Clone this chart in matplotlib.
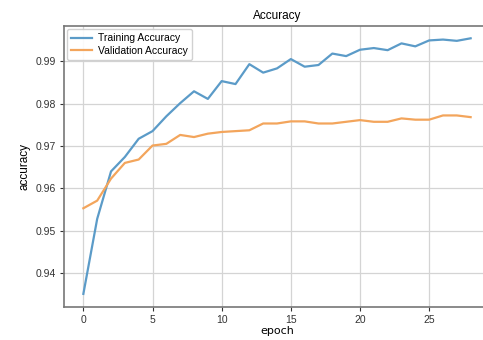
import matplotlib.pyplot as plt
from matplotlib import font_manager

# per-epoch accuracy values
epochs = list(range(29))
train_acc = [0.9351, 0.9528, 0.9640, 0.9674, 0.9717, 0.9735, 0.9770, 0.9801, 0.9829, 0.9811,
             0.9853, 0.9846, 0.9893, 0.9873, 0.9883, 0.9905, 0.9887, 0.9891, 0.9918, 0.9912,
             0.9927, 0.9931, 0.9926, 0.9942, 0.9935, 0.9949, 0.9951, 0.9948, 0.9954]
val_acc = [0.9553, 0.9571, 0.9623, 0.9660, 0.9668, 0.9701, 0.9705, 0.9726, 0.9721, 0.9729,
           0.9733, 0.9735, 0.9737, 0.9753, 0.9753, 0.9758, 0.9758, 0.9753, 0.9753, 0.9757,
           0.9761, 0.9757, 0.9757, 0.9765, 0.9762, 0.9762, 0.9772, 0.9772, 0.9768]
yticks = [0.94, 0.95, 0.96, 0.97, 0.98, 0.99]

installed = {f.name for f in font_manager.fontManager.ttflist}
narrow = [f for f in ['Liberation Sans Narrow', 'DejaVu Sans Condensed'] if f in installed]
narrow = (narrow or ['Liberation Sans']) + ['DejaVu Sans']
plt.rcParams['font.family'] = narrow

fig = plt.figure(figsize=(4.83, 3.4), dpi=100)
ax = fig.add_axes([0.1325, 0.097, 0.882, 0.8265])

ax.plot(epochs, train_acc, color='#5b9bc8', lw=1.6, label='Training Accuracy')
ax.plot(epochs, val_acc, color='#f3a55c', lw=1.6, label='Validation Accuracy')

ax.set_ylim(0.9320, 0.9983)
ax.set_yticks(yticks)
ax.set_xticks([0, 5, 10, 15, 20, 25])
ax.grid(True, color='#d4d4d4', lw=0.9)
ax.tick_params(labelsize=7.5, colors='#333333', length=3, pad=2.5)
for s in ax.spines.values():
    s.set_color('#777777')
    s.set_linewidth(1.2)

ax.set_title('Accuracy', fontsize=8.5, pad=5)
ax.set_ylabel('accuracy', fontsize=8.5)
ax.set_xlabel('epoch', fontsize=8, family='DejaVu Sans', labelpad=1)
ax.legend(loc='upper left', fontsize=7.5, framealpha=0.9, edgecolor='#cccccc',
          handlelength=2, handletextpad=0.6, borderaxespad=0.3, labelspacing=0.25)

fig.savefig('out.png', dpi=100)
